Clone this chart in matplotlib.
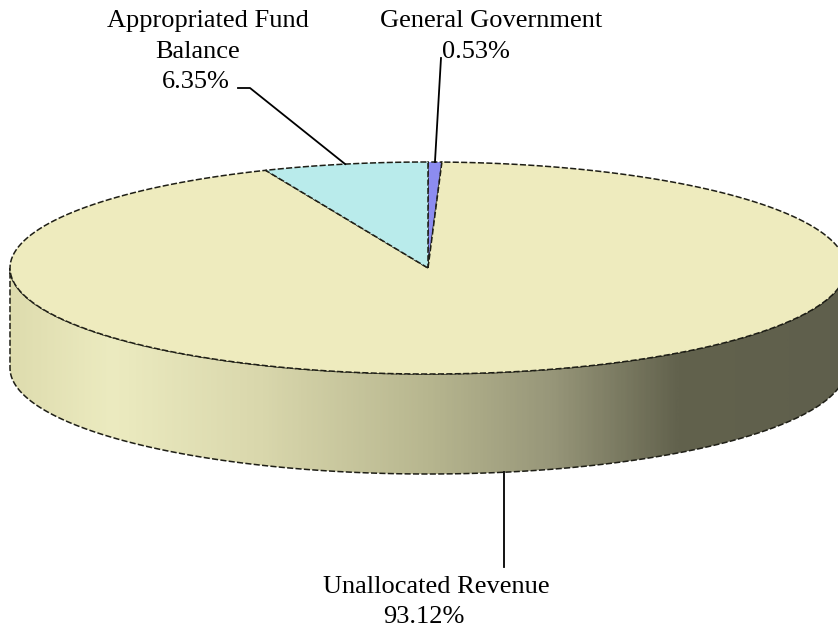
import numpy as np
import matplotlib.pyplot as plt
from matplotlib.colors import LinearSegmentedColormap
from matplotlib.patches import Polygon

# Budget shares, in drawing order (clockwise from 12 o'clock)
names = ['General Government', 'Unallocated Revenue', 'Appropriated Fund Balance']
shares = [0.53, 93.12, 6.35]
face_colors = ['#8c8cf0', '#eeebbe', '#b9ebeb']

# side shading of the front wall, left to right
side_stops = [0.0, 0.12, 0.3, 0.5, 0.65, 0.8, 1.0]
side_shades = ['#dedcae', '#ecebc0', '#d9d7ac', '#b7b68f', '#979679', '#62624d', '#5f5f4c']

# ellipse geometry in pixels
cx, cy, rx, ry, depth = 428, 268, 418, 106, 100
edge = '#1e1e16'
dash = (0, (4, 1.5))

fig = plt.figure(figsize=(8.38, 6.32), dpi=100)
ax = fig.add_axes([0, 0, 1, 1])
ax.set_xlim(0, 838)
ax.set_ylim(632, 0)
ax.axis('off')


def arc(a0, a1, dy=0, n=200):
    t = np.radians(np.linspace(a0, a1, n))
    return np.column_stack([cx + rx * np.cos(t), cy - ry * np.sin(t) + dy])


# front wall with left-to-right shading
top_front = arc(180, 360)
bot_front = arc(360, 180, dy=depth)
wall = Polygon(np.vstack([top_front, bot_front]), closed=True, facecolor='none',
               edgecolor=edge, lw=1.1, ls=dash, zorder=2)
ax.add_patch(wall)
cmap = LinearSegmentedColormap.from_list('wall', list(zip(side_stops, side_shades)))
grad = np.linspace(0, 1, 400).reshape(1, -1)
img = ax.imshow(grad, cmap=cmap, aspect='auto', zorder=1,
                extent=[cx - rx, cx + rx, cy + ry + depth, cy])
img.set_clip_path(wall)

# top face slices
angles = 90 - np.cumsum([0] + [s * 3.6 for s in shares])
mids = []
for i, (s, c) in enumerate(zip(shares, face_colors)):
    a0, a1 = angles[i], angles[i + 1]
    pts = np.vstack([[cx, cy], arc(a0, a1)])
    ax.add_patch(Polygon(pts, closed=True, facecolor=c, edgecolor=edge,
                         lw=1.1, ls=dash, zorder=3))
    mids.append((a0 + a1) / 2)

font = dict(family='Liberation Serif', fontsize=19, color='black',
            ha='center', va='baseline')


def label(lines, xs, ys):
    for t, x, y in zip(lines, xs, ys):
        ax.text(x, y, t, **font)


# General Government label
m = np.radians(mids[0])
ex, ey = cx + rx * np.cos(m), cy - ry * np.sin(m)
ax.plot([441, ex], [58, ey], color='black', lw=1.3, zorder=4)
label([names[0], f'{shares[0]:.2f}%'], [491, 476], [27, 58])

# Unallocated Revenue label (hangs below the wall)
m = np.radians(mids[1])
ex, ey = cx + rx * np.cos(m), cy - ry * np.sin(m) + depth
ax.plot([ex, ex], [ey, 567], color='black', lw=1.3, zorder=4)
label([names[1], f'{shares[1]:.2f}%'], [436, 424], [593, 623])

# Appropriated Fund Balance label
m = np.radians(mids[2])
ex, ey = cx + rx * np.cos(m), cy - ry * np.sin(m)
ax.plot([238, 250, ex], [88, 88, ey], color='black', lw=1.3, zorder=4)
label(['Appropriated Fund', 'Balance', f'{shares[2]:.2f}%'],
      [208, 198, 196], [27, 58, 88])

fig.savefig('out.png', dpi=100)
